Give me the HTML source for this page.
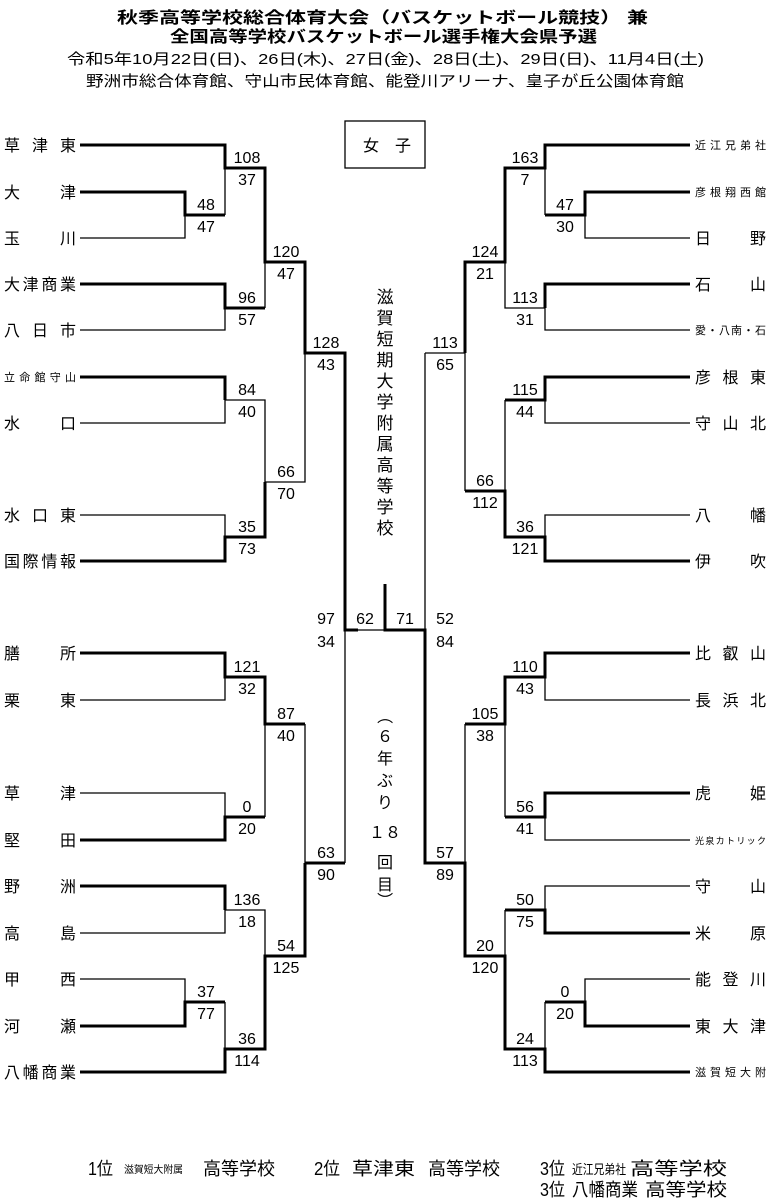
<!DOCTYPE html>
<html><head><meta charset="utf-8"><style>
html,body{margin:0;padding:0;background:#fff;}
svg{display:block;font-family:"Liberation Sans","Noto Sans CJK JP",sans-serif;}
.t{fill:none;stroke:#000;stroke-width:3;stroke-linejoin:miter;}
.n{fill:none;stroke:#000;stroke-width:1.3;}
.s{font-size:16px;text-anchor:middle;}
.nm{font-size:16px;}
.sm{font-size:11px;}
</style></head><body>
<svg width="771" height="1200" viewBox="0 0 771 1200" xmlns="http://www.w3.org/2000/svg">
<text x="117" y="23" font-size="16" font-weight="bold" textLength="531" lengthAdjust="spacingAndGlyphs">秋季高等学校総合体育大会（バスケットボール競技） 兼</text>
<text x="170" y="42" font-size="16" font-weight="bold" textLength="427" lengthAdjust="spacingAndGlyphs">全国高等学校バスケットボール選手権大会県予選</text>
<text x="67" y="64" font-size="15" textLength="637" lengthAdjust="spacingAndGlyphs">令和5年10月22日(日)、26日(木)、27日(金)、28日(土)、29日(日)、11月4日(土)</text>
<text x="86" y="86" font-size="15" textLength="598" lengthAdjust="spacingAndGlyphs">野洲市総合体育館、守山市民体育館、能登川アリーナ、皇子が丘公園体育館</text>

<rect x="345" y="121" width="80" height="47" fill="none" stroke="#000" stroke-width="1.3"/>
<text x="363" y="151" font-size="16">女</text><text x="395" y="151" font-size="16">子</text>

<g font-size="17" text-anchor="middle">
<text x="385" y="303">滋</text><text x="385" y="324">賀</text><text x="385" y="345">短</text><text x="385" y="366">期</text>
<text x="385" y="387">大</text><text x="385" y="408">学</text><text x="385" y="429">附</text><text x="385" y="450">属</text>
<text x="385" y="471">高</text><text x="385" y="492">等</text><text x="385" y="513">学</text><text x="385" y="534">校</text>
</g>
<g font-size="16" text-anchor="middle">
<text x="385" y="722" transform="rotate(90 385 716)">（</text>
<text x="385" y="742">６</text><text x="385" y="764">年</text><text x="385" y="786">ぶ</text><text x="385" y="808">り</text>
<text x="385" y="838">１８</text>
<text x="385" y="868">回</text><text x="385" y="890">目</text>
<text x="385" y="906" transform="rotate(90 385 900)">）</text>
</g>

<path class="t" d="M80 145H225V168H265V262H305V353H345V630H358"/>
<path class="n" d="M358 630H385"/>
<path class="t" d="M385 584V630H425V863H465V956H505V1049H545V1072H690"/>
<path class="n" d="M345 630V863"/>
<path class="n" d="M425 353V630"/>

<path class="t" d="M80 192H185V215H225"/><path class="n" d="M185 215V238H80"/><path class="n" d="M225 168V215"/>
<path class="t" d="M80 284H225V308H265"/><path class="n" d="M225 308V330H80"/><path class="n" d="M265 262V308"/>
<path class="t" d="M80 377H225V400"/><path class="n" d="M225 400V423H80"/><path class="n" d="M225 400H265V482"/>
<path class="n" d="M80 515H225V537"/><path class="t" d="M80 561H225V537H265V482"/><path class="n" d="M265 482H305V353"/>
<path class="t" d="M80 653H225V677H265V724H305"/><path class="n" d="M225 677V700H80"/><path class="n" d="M305 724V863"/>
<path class="t" d="M305 863H345"/>
<path class="n" d="M80 793H225V817"/><path class="t" d="M80 840H225V817H265"/><path class="n" d="M265 724V817"/>
<path class="t" d="M80 886H225V910"/><path class="n" d="M225 910V933H80"/><path class="n" d="M225 910H265V956"/>
<path class="n" d="M80 979H185V1002"/><path class="t" d="M80 1026H185V1002H225"/><path class="n" d="M225 1002V1049"/>
<path class="t" d="M80 1072H225V1049H265V956H305V863"/>
<path class="t" d="M690 145H545V168H505V262H465V353"/><path class="n" d="M545 168V215"/>
<path class="t" d="M690 192H585V215H545"/><path class="n" d="M585 215V238H690"/>
<path class="t" d="M690 284H545V308"/><path class="n" d="M545 308V330H690"/><path class="n" d="M545 308H505V262"/>
<path class="n" d="M465 353H425"/><path class="n" d="M465 353V491"/>
<path class="t" d="M690 377H545V400H505"/><path class="n" d="M545 400V423H690"/><path class="n" d="M505 400V491"/>
<path class="n" d="M690 515H545V537"/><path class="t" d="M690 561H545V537H505V491H465"/>
<path class="t" d="M690 653H545V677H505V724H465"/><path class="n" d="M545 677V700H690"/><path class="n" d="M465 724V863"/><path class="n" d="M505 724V817"/>
<path class="t" d="M690 793H545V817H505"/><path class="n" d="M545 817V840H690"/>
<path class="n" d="M690 886H545V910"/><path class="t" d="M690 933H545V910H505"/><path class="n" d="M505 910V956"/>
<path class="n" d="M690 979H585V1002"/><path class="t" d="M690 1026H585V1002H545"/><path class="n" d="M545 1002V1049"/>

<g class="s">
<text x="247" y="163">108</text><text x="247" y="185">37</text>
<text x="206" y="210">48</text><text x="206" y="232">47</text>
<text x="286" y="257">120</text><text x="286" y="279">47</text>
<text x="247" y="303">96</text><text x="247" y="325">57</text>
<text x="326" y="348">128</text><text x="326" y="370">43</text>
<text x="247" y="395">84</text><text x="247" y="417">40</text>
<text x="286" y="477">66</text><text x="286" y="499">70</text>
<text x="247" y="532">35</text><text x="247" y="554">73</text>
<text x="247" y="672">121</text><text x="247" y="694">32</text>
<text x="286" y="719">87</text><text x="286" y="741">40</text>
<text x="247" y="812">0</text><text x="247" y="834">20</text>
<text x="326" y="858">63</text><text x="326" y="880">90</text>
<text x="247" y="905">136</text><text x="247" y="927">18</text>
<text x="286" y="951">54</text><text x="286" y="973">125</text>
<text x="206" y="997">37</text><text x="206" y="1019">77</text>
<text x="247" y="1044">36</text><text x="247" y="1066">114</text>
<text x="326" y="624">97</text><text x="326" y="647">34</text>
<text x="365" y="624">62</text><text x="405" y="624">71</text>
<text x="445" y="624">52</text><text x="445" y="647">84</text>
<text x="525" y="163">163</text><text x="525" y="185">7</text>
<text x="565" y="210">47</text><text x="565" y="232">30</text>
<text x="485" y="257">124</text><text x="485" y="279">21</text>
<text x="525" y="303">113</text><text x="525" y="325">31</text>
<text x="445" y="348">113</text><text x="445" y="370">65</text>
<text x="525" y="395">115</text><text x="525" y="417">44</text>
<text x="485" y="486">66</text><text x="485" y="508">112</text>
<text x="525" y="532">36</text><text x="525" y="554">121</text>
<text x="525" y="672">110</text><text x="525" y="694">43</text>
<text x="485" y="719">105</text><text x="485" y="741">38</text>
<text x="525" y="812">56</text><text x="525" y="834">41</text>
<text x="445" y="858">57</text><text x="445" y="880">89</text>
<text x="525" y="905">50</text><text x="525" y="927">75</text>
<text x="485" y="951">20</text><text x="485" y="973">120</text>
<text x="565" y="997">0</text><text x="565" y="1019">20</text>
<text x="525" y="1044">24</text><text x="525" y="1066">113</text>
</g>

<g class="nm">
<text x="4" y="151" textLength="72" lengthAdjust="spacing">草津東</text>
<text x="4" y="198" textLength="72" lengthAdjust="spacing">大津</text>
<text x="4" y="244" textLength="72" lengthAdjust="spacing">玉川</text>
<text x="4" y="290" textLength="72" lengthAdjust="spacing">大津商業</text>
<text x="4" y="336" textLength="72" lengthAdjust="spacing">八日市</text>
<text x="4" y="381" class="sm" textLength="72" lengthAdjust="spacing">立命館守山</text>
<text x="4" y="429" textLength="72" lengthAdjust="spacing">水口</text>
<text x="4" y="521" textLength="72" lengthAdjust="spacing">水口東</text>
<text x="4" y="567" textLength="72" lengthAdjust="spacing">国際情報</text>
<text x="4" y="659" textLength="72" lengthAdjust="spacing">膳所</text>
<text x="4" y="706" textLength="72" lengthAdjust="spacing">栗東</text>
<text x="4" y="799" textLength="72" lengthAdjust="spacing">草津</text>
<text x="4" y="846" textLength="72" lengthAdjust="spacing">堅田</text>
<text x="4" y="892" textLength="72" lengthAdjust="spacing">野洲</text>
<text x="4" y="939" textLength="72" lengthAdjust="spacing">高島</text>
<text x="4" y="985" textLength="72" lengthAdjust="spacing">甲西</text>
<text x="4" y="1032" textLength="72" lengthAdjust="spacing">河瀬</text>
<text x="4" y="1078" textLength="72" lengthAdjust="spacing">八幡商業</text>
</g>
<g class="nm">
<text x="695" y="149" class="sm" textLength="71" lengthAdjust="spacing">近江兄弟社</text>
<text x="695" y="196" class="sm" textLength="71" lengthAdjust="spacing">彦根翔西館</text>
<text x="695" y="244" textLength="71" lengthAdjust="spacing">日野</text>
<text x="695" y="290" textLength="71" lengthAdjust="spacing">石山</text>
<text x="695" y="334" class="sm" textLength="71" lengthAdjust="spacing">愛・八南・石</text>
<text x="695" y="383" textLength="71" lengthAdjust="spacing">彦根東</text>
<text x="695" y="429" textLength="71" lengthAdjust="spacing">守山北</text>
<text x="695" y="521" textLength="71" lengthAdjust="spacing">八幡</text>
<text x="695" y="567" textLength="71" lengthAdjust="spacing">伊吹</text>
<text x="695" y="659" textLength="71" lengthAdjust="spacing">比叡山</text>
<text x="695" y="706" textLength="71" lengthAdjust="spacing">長浜北</text>
<text x="695" y="799" textLength="71" lengthAdjust="spacing">虎姫</text>
<text x="695" y="844" font-size="9" textLength="71" lengthAdjust="spacing">光泉カトリック</text>
<text x="695" y="892" textLength="71" lengthAdjust="spacing">守山</text>
<text x="695" y="939" textLength="71" lengthAdjust="spacing">米原</text>
<text x="695" y="985" textLength="71" lengthAdjust="spacing">能登川</text>
<text x="695" y="1032" textLength="71" lengthAdjust="spacing">東大津</text>
<text x="695" y="1076" class="sm" textLength="71" lengthAdjust="spacing">滋賀短大附</text>
</g>

<g font-size="18">
<text x="88" y="1175" textLength="25" lengthAdjust="spacingAndGlyphs">1位</text>
<text x="124" y="1173" font-size="10" textLength="59" lengthAdjust="spacingAndGlyphs">滋賀短大附属</text>
<text x="203" y="1175" textLength="72" lengthAdjust="spacingAndGlyphs">高等学校</text>
<text x="314" y="1175" textLength="26" lengthAdjust="spacingAndGlyphs">2位</text>
<text x="352" y="1175" textLength="63" lengthAdjust="spacingAndGlyphs">草津東</text>
<text x="428" y="1175" textLength="72" lengthAdjust="spacingAndGlyphs">高等学校</text>
<text x="540" y="1175" textLength="25" lengthAdjust="spacingAndGlyphs">3位</text>
<text x="572" y="1174" font-size="13" textLength="54" lengthAdjust="spacingAndGlyphs">近江兄弟社</text>
<text x="630" y="1175" textLength="97" lengthAdjust="spacingAndGlyphs">高等学校</text>
<text x="540" y="1196" textLength="25" lengthAdjust="spacingAndGlyphs">3位</text>
<text x="572" y="1196" textLength="66" lengthAdjust="spacingAndGlyphs">八幡商業</text>
<text x="645" y="1196" textLength="82" lengthAdjust="spacingAndGlyphs">高等学校</text>
</g>
</svg>
</body></html>
